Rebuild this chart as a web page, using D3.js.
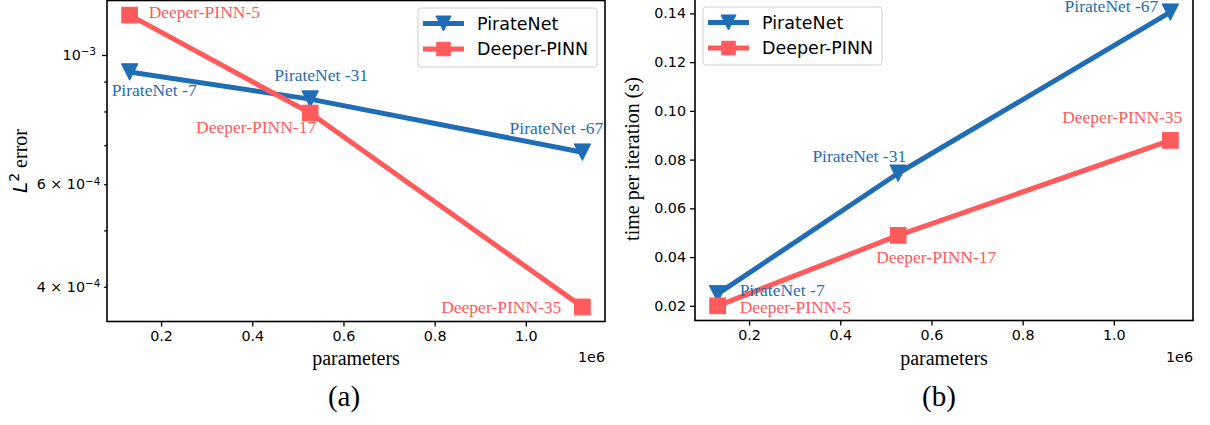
<!DOCTYPE html>
<html><head><meta charset="utf-8">
<script src="https://cdn.jsdelivr.net/npm/d3@7"></script>
<style>
body{margin:0;background:#fff}
svg{display:block}
.tick text{font-family:"DejaVu Sans";font-size:14.3px;fill:#000}
.serif{font-family:"Liberation Serif","Times New Roman",serif}
.sans{font-family:"DejaVu Sans",sans-serif}
</style></head><body>
<svg id="c" width="1210" height="425"></svg>
<script>
// ---- data ----
const params = [0.131e6, 0.527e6, 1.124e6];
const pirateDepth = [7, 31, 67];
const deeperDepth = [5, 17, 35];
const pirateError = [0.935e-3, 0.840e-3, 0.681e-3];
const deeperError = [1.171e-3, 0.795e-3, 0.3694e-3];
const pirateTime = [0.0249, 0.0744, 0.1405];
const deeperTime = [0.0200, 0.0489, 0.0879];
const seriesNames = ["PirateNet", "Deeper-PINN"];
const annotationPrefixes = ["PirateNet -", "Deeper-PINN-"];
const xTicks = [0.2e6, 0.4e6, 0.6e6, 0.8e6, 1.0e6];
const errMajorTicks = [1e-3];
const errMinorTicks = [4e-4, 5e-4, 6e-4, 7e-4, 8e-4, 9e-4];
const errLabeledTicks = [4e-4, 6e-4, 1e-3];
const timeTicks = [0.02, 0.04, 0.06, 0.08, 0.10, 0.12, 0.14];
const xOffsetLabel = "1e6";
const xLabel = "parameters";
const yLabelTime = "time per iteration (s)";
const panelCaptions = ["(a)", "(b)"];

// ---- style ----
const BLUE = "#1f6db4", RED = "#ff5a5c";
const LW = 5;
const panels = {
  a: {left: 107, right: 605, top: 0.5, bottom: 321.5},
  b: {left: 695, right: 1193, top: -2.5, bottom: 320.5}
};
// label offsets (px) from each point: [dx, dy, anchor]
const annA = {
  pirate: [[-18, 24, "start"], [11, -18, "middle"], [21, -18, "end"]],
  deeper: [[19, 3, "start"], [6, 20, "end"], [-21, 6, "end"]]
};
const annB = {
  pirate: [[22, 2, "start"], [8, -11, "end"], [-12, 0, "end"]],
  deeper: [[22, 7, "start"], [-22, 28, "start"], [12, -17, "end"]]
};

const svg = d3.select("#c");

function pad(lo, hi, f) { const s = hi - lo; return [lo - s * f, hi + s * f]; }
const xExt = pad(d3.min(params), d3.max(params), 0.05);

function trianglePath(w) {
  const h = w / 2;
  return `M${-h},${-h}L${h},${-h}L0,${h}Z`;
}
function drawMarker(g, kind, x, y, size, color) {
  if (kind === "tri") {
    g.append("path").attr("d", trianglePath(size)).attr("transform", `translate(${x},${y})`)
      .attr("fill", color).attr("stroke", color).attr("stroke-width", 1);
  } else {
    g.append("rect").attr("x", x - size / 2).attr("y", y - size / 2)
      .attr("width", size).attr("height", size)
      .attr("fill", color).attr("stroke", color).attr("stroke-width", 1);
  }
}

function supLabel(sel, d) {
  // write values as "m × 10^e" using tspans
  const e = Math.floor(Math.log10(d) + 1e-9);
  const m = Math.round(d / Math.pow(10, e));
  sel.text(null).attr("font-family", "DejaVu Sans").attr("font-size", "14.3px");
  sel.append("tspan").text(m === 1 ? "10" : `${m} × 10`);
  sel.append("tspan").attr("dy", "-0.45em").attr("font-size", "10.3px").text("−" + Math.abs(e));
}

function drawPanel(key, yScale, pVals, dVals, ann, yAxisSetup, legendBox) {
  const P = panels[key];
  const x = d3.scaleLinear().domain(xExt).range([P.left, P.right]);
  const g = svg.append("g");

  // x axis
  const xa = g.append("g").attr("transform", `translate(0,${P.bottom})`)
    .call(d3.axisBottom(x).tickValues(xTicks).tickFormat(d => (d / 1e6).toFixed(1)).tickSize(5).tickPadding(4));
  xa.select(".domain").remove();
  xa.selectAll(".tick line").attr("stroke-width", 1.3);

  yAxisSetup(g, yScale, P);

  // lines and markers
  const line = d3.line().x((d, i) => x(params[i])).y(d => yScale(d));
  g.append("path").datum(pVals).attr("d", line).attr("fill", "none")
    .attr("stroke", BLUE).attr("stroke-width", LW).attr("stroke-linejoin", "round");
  const gm1 = g.append("g");
  pVals.forEach((v, i) => drawMarker(gm1, "tri", x(params[i]), yScale(v), 16.5, BLUE));
  g.append("path").datum(dVals).attr("d", line).attr("fill", "none")
    .attr("stroke", RED).attr("stroke-width", LW).attr("stroke-linejoin", "round");
  const gm2 = g.append("g");
  dVals.forEach((v, i) => drawMarker(gm2, "sq", x(params[i]), yScale(v), 15.7, RED));

  // point annotations
  const ga = g.append("g").attr("class", "serif").attr("font-size", "17.5px");
  pVals.forEach((v, i) => {
    const [dx, dy, an] = ann.pirate[i];
    ga.append("text").attr("x", x(params[i]) + dx).attr("y", yScale(v) + dy)
      .attr("text-anchor", an).attr("fill", BLUE).text(annotationPrefixes[0] + pirateDepth[i]);
  });
  dVals.forEach((v, i) => {
    const [dx, dy, an] = ann.deeper[i];
    ga.append("text").attr("x", x(params[i]) + dx).attr("y", yScale(v) + dy)
      .attr("text-anchor", an).attr("fill", RED).text(annotationPrefixes[1] + deeperDepth[i]);
  });

  // spines
  const sp = g.append("g").attr("stroke", "#000").attr("stroke-width", 1.6).attr("fill", "none");
  sp.append("rect").attr("x", P.left).attr("y", P.top)
    .attr("width", P.right - P.left).attr("height", P.bottom - P.top);

  // x label and offset
  g.append("text").attr("class", "serif").attr("font-size", "20px")
    .attr("x", (P.left + P.right) / 2).attr("y", 365).attr("text-anchor", "middle").text(xLabel);
  g.append("text").attr("class", "sans").attr("font-size", "14.3px")
    .attr("x", P.right).attr("y", 362).attr("text-anchor", "end").text(xOffsetLabel);

  // legend
  const L = legendBox;
  const lg = g.append("g");
  lg.append("rect").attr("x", L.x).attr("y", L.y).attr("width", L.w).attr("height", L.h)
    .attr("rx", 3).attr("fill", "#fff").attr("fill-opacity", 0.8).attr("stroke", "#d0d0d0").attr("stroke-width", 1);
  [[BLUE, "tri", 15], [RED, "sq", 13.5]].forEach(([c, kind, s], i) => {
    const yy = L.y + 15.5 + i * 25.5;
    lg.append("line").attr("x1", L.x + 5).attr("x2", L.x + 46).attr("y1", yy).attr("y2", yy)
      .attr("stroke", c).attr("stroke-width", LW);
    drawMarker(lg, kind, L.x + 25.5, yy, s, c);
    lg.append("text").attr("class", "sans").attr("font-size", "17.5px")
      .attr("x", L.x + 59).attr("y", yy + 6.3).text(seriesNames[i]);
  });
  return x;
}

// ---- panel (a): L2 error, log scale ----
const errLog = pad(Math.log10(d3.min(deeperError)), Math.log10(d3.max(deeperError)), 0.05);
const yErr = d3.scaleLog().domain([Math.pow(10, errLog[0]), Math.pow(10, errLog[1])])
  .range([panels.a.bottom, panels.a.top]);

drawPanel("a", yErr, pirateError, deeperError, annA, (g, y, P) => {
  const ax = g.append("g").attr("transform", `translate(${P.left},0)`);
  const major = ax.append("g").call(d3.axisLeft(y).tickValues(errMajorTicks).tickSize(5).tickPadding(6));
  const minor = ax.append("g").call(d3.axisLeft(y).tickValues(errMinorTicks).tickSize(2.8).tickPadding(4));
  [major, minor].forEach(s => {
    s.select(".domain").remove();
    s.selectAll(".tick line").attr("stroke-width", 1.3);
    s.selectAll(".tick text").each(function(d) {
      const t = d3.select(this);
      if (errLabeledTicks.includes(d)) supLabel(t, d); else t.remove();
    });
  });
  // y label: L^2 error
  const t = g.append("text").attr("transform", `translate(27,${(P.top + P.bottom) / 2}) rotate(-90)`)
    .attr("text-anchor", "middle").attr("font-size", "20px");
  t.append("tspan").attr("class", "sans").attr("font-style", "italic").text("L");
  t.append("tspan").attr("class", "sans").attr("font-size", "14px").attr("dy", "-8").text("2");
  t.append("tspan").attr("class", "serif").attr("dy", "8").text(" error");
}, {x: 418, y: 8, w: 179, h: 59});

// ---- panel (b): time per iteration ----
const tExt = pad(d3.min(deeperTime), d3.max(pirateTime), 0.05);
const yTime = d3.scaleLinear().domain(tExt).range([panels.b.bottom, panels.b.top]);

drawPanel("b", yTime, pirateTime, deeperTime, annB, (g, y, P) => {
  const ax = g.append("g").attr("transform", `translate(${P.left},0)`)
    .call(d3.axisLeft(y).tickValues(timeTicks).tickFormat(d3.format(".2f")).tickSize(5).tickPadding(4));
  ax.select(".domain").remove();
  ax.selectAll(".tick line").attr("stroke-width", 1.3);
  g.append("text").attr("class", "serif").attr("font-size", "20px")
    .attr("transform", `translate(639,${(P.top + P.bottom) / 2}) rotate(-90)`)
    .attr("text-anchor", "middle").text(yLabelTime);
}, {x: 703, y: 7, w: 179, h: 58});

// panel captions
[[344, panelCaptions[0]], [939, panelCaptions[1]]].forEach(([cx, s]) => {
  svg.append("text").attr("class", "serif").attr("font-size", "29px")
    .attr("x", cx).attr("y", 406).attr("text-anchor", "middle").text(s);
});
</script></body></html>
